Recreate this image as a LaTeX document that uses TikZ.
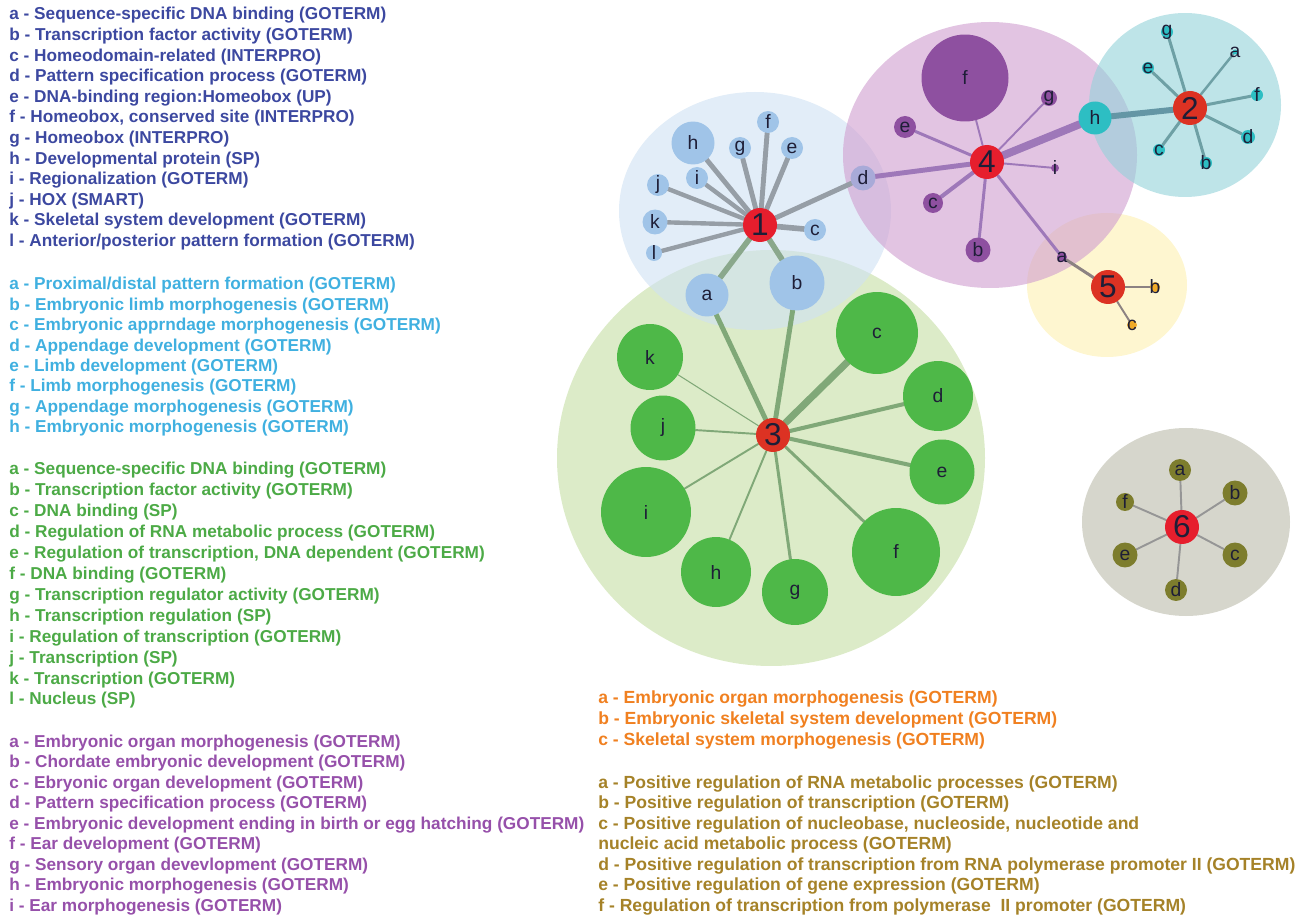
\documentclass[tikz,border=0pt]{standalone}
\usepackage{fontspec}
\setmainfont{Liberation Sans}
\usetikzlibrary{positioning}

\definecolor{legblue}{RGB}{60,72,160}
\definecolor{leglight}{RGB}{64,176,224}
\definecolor{leggreen}{RGB}{76,170,70}
\definecolor{legpurple}{RGB}{150,80,170}
\definecolor{legorange}{RGB}{240,128,32}
\definecolor{legolive}{RGB}{165,130,40}

\definecolor{cl1}{RGB}{207,225,243}
\definecolor{cl2}{RGB}{147,210,217}
\definecolor{cl3}{RGB}{197,222,163}
\definecolor{cl4}{RGB}{207,157,207}
\definecolor{cl5}{RGB}{253,240,177}
\definecolor{cl6}{RGB}{187,187,170}

\definecolor{hubred}{RGB}{230,30,45}
\definecolor{hubora}{RGB}{220,50,35}
\definecolor{sat1}{RGB}{160,196,232}
\definecolor{satd}{RGB}{168,170,216}
\definecolor{sat2}{RGB}{45,190,195}
\definecolor{sat3}{RGB}{78,184,72}
\definecolor{sat4}{RGB}{142,80,160}
\definecolor{sat5}{RGB}{240,170,40}
\definecolor{sat6}{RGB}{125,125,45}
\definecolor{nodetext}{RGB}{30,30,55}

\definecolor{ed1}{RGB}{150,158,166}
\definecolor{ed13}{RGB}{138,168,140}
\definecolor{ed2}{RGB}{110,160,165}
\definecolor{edh}{RGB}{100,150,165}
\definecolor{ed3}{RGB}{128,168,120}
\definecolor{ed4}{RGB}{158,120,185}
\definecolor{ed5}{RGB}{140,130,130}
\definecolor{ed6}{RGB}{150,150,150}

\pgfdeclarelayer{edges}
\pgfsetlayers{edges,main}

\begin{document}
\begin{tikzpicture}[x=0.02cm, y=-0.02cm,
    clu/.style={fill opacity=0.6},
    sat/.style={circle, inner sep=0pt, font=\fontsize{11}{11}\selectfont, text=nodetext},
    hub/.style={circle, inner sep=0pt, minimum size=0.68cm,
      font=\fontsize{18}{18}\selectfont, text=nodetext},
    tiny/.style={sat, label={[font=\fontsize{11}{11}\selectfont, text=nodetext]center:#1}},
    leg/.style={anchor=base west, inner sep=0pt, font=\bfseries\fontsize{9.8}{11}\selectfont},
    legwide/.style={leg, font=\bfseries\fontsize{10}{11}\selectfont},
    link/.style={line cap=round}
  ]
  \useasboundingbox (0,0) rectangle (1302,915);

  % cluster backgrounds
  \begin{pgfonlayer}{edges}
    \fill[clu, fill=cl3] (771,458) ellipse [x radius=214, y radius=208];
    \fill[clu, fill=cl1] (755,211) ellipse [x radius=136, y radius=119];
    \fill[clu, fill=cl5] (1107,285) ellipse [x radius=80, y radius=72];
    \fill[clu, fill=cl4] (990,155) ellipse [x radius=147, y radius=133];
    \fill[clu, fill=cl2] (1185,105) ellipse [x radius=96, y radius=92];
    \fill[clu, fill=cl6] (1186,522) ellipse [x radius=104, y radius=94];
  \end{pgfonlayer}

  % cluster 1
  \node[hub, fill=hubred] (hub1) at (760,225) {1};
  \foreach \n/\x/\y/\s in {h/693/143/0.86, g/740/148/0.44, f/768/122/0.44,
      e/792/148/0.44, i/697/178/0.44, j/658/185/0.44, k/655/222/0.5,
      l/654/253/0.32, c/815/230/0.44, a/707/295/0.86, b/797/283/1.1}
    \node[sat, fill=sat1, minimum size=\s cm] (\n1) at (\x,\y) {\n};
  \node[sat, fill=satd, minimum size=0.5cm] (d1) at (863,178) {d};

  % cluster 4
  \node[hub, fill=hubred] (hub4) at (987,162) {4};
  \foreach \n/\x/\y/\s in {f/965/78/1.74, e/905/127/0.44, c/933/203/0.4, b/978/250/0.5}
    \node[sat, fill=sat4, minimum size=\s cm] (\n4) at (\x,\y) {\n};
  \node[tiny=g, fill=sat4, minimum size=0.32cm] (g4) at (1049,98) {};
  \node[tiny=i, fill=sat4, minimum size=0.16cm] (i4) at (1055,168) {};
  \node[tiny=a, fill=sat4, minimum size=0.2cm] (a4) at (1062,257) {};
  \node[sat, fill=sat2, minimum size=0.66cm] (h4) at (1095,118) {h};

  % cluster 2
  \node[hub, fill=hubora] (hub2) at (1190,108) {2};
  \foreach \n/\x/\y/\s in {g/1167/32/0.24, a/1235/52/0.1, e/1148/68/0.24,
      f/1257/95/0.24, d/1248/137/0.28, b/1206/163/0.24, c/1159/150/0.24}
    \node[tiny=\n, fill=sat2, minimum size=\s cm] (\n2) at (\x,\y) {};

  % cluster 5
  \node[hub, fill=hubora] (hub5) at (1108,287) {5};
  \node[tiny=b, fill=sat5, minimum size=0.2cm] (b5) at (1155,287) {};
  \node[tiny=c, fill=sat5, minimum size=0.2cm] (c5) at (1132,325) {};

  % cluster 6
  \node[hub, fill=hubred] (hub6) at (1182,527) {6};
  \foreach \n/\x/\y/\s in {a/1180/470/0.44, b/1235/493/0.5, c/1235/555/0.5,
      d/1176/590/0.44, e/1125/555/0.5, f/1125/502/0.36}
    \node[sat, fill=sat6, minimum size=\s cm] (\n6) at (\x,\y) {\n};

  % cluster 3
  \node[hub, fill=hubora] (hub3) at (773,435) {3};
  \foreach \n/\x/\y/\s in {c/877/333/1.64, d/938/396/1.4, e/942/472/1.3,
      f/896/552/1.76, g/795/592/1.32, h/716/572/1.4, i/646/512/1.8,
      j/663/428/1.3, k/650/357/1.32}
    \node[sat, fill=sat3, minimum size=\s cm] (\n3) at (\x,\y) {\n};

  % links
  \begin{pgfonlayer}{edges}
    \foreach \t/\w in {h1/2.8, g1/2.8, f1/2.8, e1/2.8, i1/2.5, j1/2.5, k1/2.5,
        l1/2.5, c1/3.2, d1/2.8}
      \draw[link, ed1, line width=\w pt] (hub1) -- (\t);
    \foreach \t/\w in {a1/3.2, b1/3.2}
      \draw[link, ed13, line width=\w pt] (hub1) -- (\t);
    \foreach \t/\w in {d1/2.8, f4/1.1, g4/1.1, e4/1.7, h4/4.5, i4/1.1, c4/2.3,
        b4/1.7, a4/1.7}
      \draw[link, ed4, line width=\w pt] (hub4) -- (\t);
    \draw[link, edh, line width=3.4pt] (hub2) -- (h4);
    \foreach \t/\w in {g2/1.7, a2/1.4, e2/1.7, f2/1.7, d2/1.7, b2/1.7, c2/1.7}
      \draw[link, ed2, line width=\w pt] (hub2) -- (\t);
    \foreach \t/\w in {a4/1.7, b5/1.1, c5/1.1}
      \draw[link, ed5, line width=\w pt] (hub5) -- (\t);
    \foreach \t in {a6, b6, c6, d6, e6, f6}
      \draw[link, ed6, line width=1.1pt] (hub6) -- (\t);
    \foreach \t/\w in {a1/2.8, b1/2.8, c3/4, d3/2.3, e3/2.3, f3/1.7, g3/1.7,
        h3/1.1, i3/1.1, j3/1.1, k3/0.6}
      \draw[link, ed3, line width=\w pt] (hub3) -- (\t);
  \end{pgfonlayer}

  % legends
  \foreach \t [count=\i] in {a - Sequence-specific DNA binding (GOTERM),
      b - Transcription factor activity (GOTERM),
      c - Homeodomain-related (INTERPRO),
      d - Pattern specification process (GOTERM),
      e - DNA-binding region:Homeobox (UP),
      {f - Homeobox, conserved site (INTERPRO)},
      g - Homeobox (INTERPRO),
      h - Developmental protein (SP),
      i - Regionalization (GOTERM),
      j - HOX (SMART),
      k - Skeletal system development (GOTERM),
      l - Anterior/posterior pattern formation (GOTERM)}
    \node[leg, text=legblue] (legone\i) at (9,{20+20.6*(\i-1)}) {\t};

  \foreach \t [count=\i] in {a - Proximal/distal pattern formation (GOTERM),
      b - Embryonic limb morphogenesis (GOTERM),
      c - Embryonic apprndage morphogenesis (GOTERM),
      d - Appendage development (GOTERM),
      e - Limb development (GOTERM),
      f - Limb morphogenesis (GOTERM),
      g - Appendage morphogenesis (GOTERM),
      h - Embryonic morphogenesis (GOTERM)}
    \node[leg, text=leglight] (legtwo\i) at (9,{290+20.4*(\i-1)}) {\t};

  \foreach \t [count=\i] in {a - Sequence-specific DNA binding (GOTERM),
      b - Transcription factor activity (GOTERM),
      c - DNA binding (SP),
      d - Regulation of RNA metabolic process (GOTERM),
      {e - Regulation of transcription, DNA dependent (GOTERM)},
      f - DNA binding (GOTERM),
      g - Transcription regulator activity (GOTERM),
      h - Transcription regulation (SP),
      i - Regulation of transcription (GOTERM),
      j - Transcription (SP),
      k - Transcription (GOTERM),
      l - Nucleus (SP)}
    \node[leg, text=leggreen] (legthree\i) at (9,{475+20.9*(\i-1)}) {\t};

  \foreach \t [count=\i] in {a - Embryonic organ morphogenesis (GOTERM),
      b - Chordate embryonic development (GOTERM),
      c - Ebryonic organ development (GOTERM),
      d - Pattern specification process (GOTERM),
      e - Embryonic development ending in birth or egg hatching (GOTERM),
      f - Ear development (GOTERM),
      g - Sensory organ devevlopment (GOTERM),
      h - Embryonic morphogenesis (GOTERM),
      i - Ear morphogenesis (GOTERM)}
    \node[leg, text=legpurple] (legfour\i) at (9,{747+20.5*(\i-1)}) {\t};

  \foreach \t [count=\i] in {a - Embryonic organ morphogenesis (GOTERM),
      b - Embryonic skeletal system development (GOTERM),
      c - Skeletal system morphogenesis (GOTERM)}
    \node[legwide, text=legorange] (legfive\i) at (598,{703+21*(\i-1)}) {\t};

  \foreach \t [count=\i] in {a - Positive regulation of RNA metabolic processes (GOTERM),
      b - Positive regulation of transcription (GOTERM),
      {c - Positive regulation of nucleobase, nucleoside, nucleotide and},
      nucleic acid metabolic process (GOTERM),
      d - Positive regulation of transcription from RNA polymerase promoter II (GOTERM),
      e - Positive regulation of gene expression (GOTERM),
      f - Regulation of transcription from polymerase \ II promoter (GOTERM)}
    \node[legwide, text=legolive] (legsix\i) at (598,{788+20.5*(\i-1)}) {\t};
\end{tikzpicture}
\end{document}
